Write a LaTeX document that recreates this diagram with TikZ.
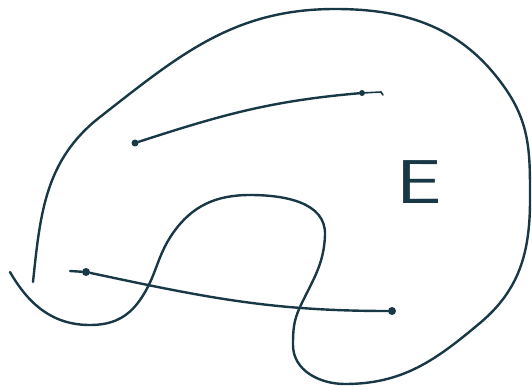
\documentclass[tikz,border=0pt]{standalone}
\usepackage{tikz}
\usetikzlibrary{arrows}
\definecolor{ink}{RGB}{24,56,70}
\tikzset{pen/.style={ink, line width=2.4pt, line cap=round, line join=round},
	dot/.style={circle, fill=ink, inner sep=0pt, minimum size=7pt}}
\begin{document}
\begin{tikzpicture}[x=1pt, y=-1pt]
	\useasboundingbox (0,0) rectangle (532,390);
	% the set E
	\draw[pen] (10,272) to[out=-60, in=180] (90,325) to[out=0, in=-125] (140,300)
		to[out=55, in=-125] (173,233) to[out=55, in=180] (250,195)
		to[out=0, in=88] (325,235) to[out=-92, in=65] (300,307)
		to[out=-115, in=90] (293,345) to[out=-90, in=180] (345,384)
		to[out=0, in=-140] (480,323) to[out=40, in=-90] (530,200)
		to[out=90, in=-55] (505,88) to[out=125, in=0] (335,9)
		to[out=180, in=38] (100,117) to[out=218, in=84] (33,282);
	\node[xscale=1.3] (lbl) at (419,182) {\fontsize{62}{62}\selectfont\sffamily\color{ink}E};
	% segment inside E
	\node[dot] (a) at (135,143) {};
	\node[dot, minimum size=6pt] (b) at (362,93) {};
	\draw[pen] (a) to[out=18, in=185] (b);
	\draw[pen, line width=1.6pt] (b) -- (381,92) -- (383,95);
	% segment leaving E
	\node[dot, minimum size=8pt] (c) at (86,272) {};
	\node[dot, minimum size=8pt] (d) at (392,311) {};
	\draw[pen] (c) -- (70,271);
	\draw[pen] (c) to[out=-12, in=180] (d);
\end{tikzpicture}
\end{document}
